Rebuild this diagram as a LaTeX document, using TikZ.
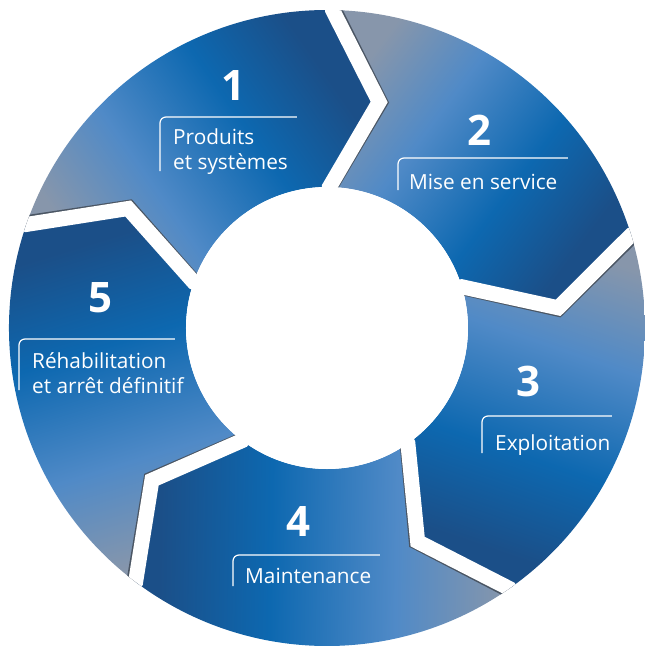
\documentclass[tikz,border=0pt]{standalone}
\usepackage{fontspec}
\setmainfont{Open Sans}
\definecolor{tailgray}{HTML}{8796AB}
\definecolor{lightblue}{HTML}{508AC7}
\definecolor{midblue}{HTML}{0D68B0}
\definecolor{darkblue}{HTML}{1B4F88}
\definecolor{shadowgray}{HTML}{4A5563}
\pgfdeclarehorizontalshading{segshade}{100bp}{color(0bp)=(tailgray); color(25bp)=(tailgray); color(40bp)=(lightblue); color(57bp)=(midblue); color(72bp)=(darkblue); color(100bp)=(darkblue)}
\begin{document}
\begin{tikzpicture}[x=1pt, y=1pt,
	phasenum/.style={text=white, inner sep=0pt, font=\fontsize{42}{42}\selectfont\bfseries},
	phasetext/.style={text=white, inner sep=0pt, anchor=west, align=left, font=\fontsize{20.8}{25}\selectfont},
	phasebracket/.style={draw=white, line width=1.2pt, rounded corners=6pt}]
			\useasboundingbox (-327,-321) rectangle (318,328);
			\def\Ro{318}
			\def\Ri{141}
			\def\Rm{232}
			
			%ring segments
			\foreach \a [evaluate=\a as \sa using \a-126] in {161, 89, 17, -55, -127}{
				\shade[shading=segshade, shading angle=\sa]
					(\a:\Ro) arc[start angle=\a, end angle=\a-72, radius=\Ro]
					-- ({\a-84}:\Rm) -- ({\a-72}:\Ri)
					arc[start angle=\a-72, end angle=\a, radius=\Ri]
					-- ({\a-12}:\Rm) -- cycle;
			}
			
			%gaps between segments
			\begin{scope}
				\clip (0,0) circle (\Ro);
				\foreach \a in {161, 89, 17, -55, -127}{
					\draw[shadowgray, line width=15pt, rotate=-0.35] ({\a}:{\Ro+30}) -- (\a:\Ro) -- ({\a-12}:\Rm) -- (\a:\Ri) -- ({\a}:{\Ri-30});
					\draw[white, line width=15pt] ({\a}:{\Ro+30}) -- (\a:\Ro) -- ({\a-12}:\Rm) -- (\a:\Ri) -- ({\a}:{\Ri-30});
				}
			\end{scope}
			\fill[white] (0,0) circle (\Ri);
			
			%numbers
			\node[phasenum] (n1) at (-94, 242) {1};
			\node[phasenum] (n2) at (152, 198) {2};
			\node[phasenum] (n3) at (201, -53) {3};
			\node[phasenum] (n4) at (-29, -194) {4};
			\node[phasenum] (n5) at (-227, 30) {5};
			
			%labels
			\node[phasetext] (t1) at (-154, 176) {Produits\\et systèmes};
			\node[phasetext] (t2) at (82, 146) {Mise en service};
			\node[phasetext] (t3) at (168, -117) {Exploitation};
			\node[phasetext] (t4) at (-82, -248) {Maintenance};
			\node[phasetext] (t5) at (-295, -45) {Réhabilitation\\et arrêt définitif};
			
			%brackets
			\foreach \x/\y/\w/\h in {-167/211/137/54, 71/170/170/32, 155/-88/130/37, -94/-227/147/31, -308/-11/156/51}{
				\draw[phasebracket] (\x+\w, \y) -- (\x, \y) -- (\x, \y-\h);
			}
		\end{tikzpicture}
\end{document}
